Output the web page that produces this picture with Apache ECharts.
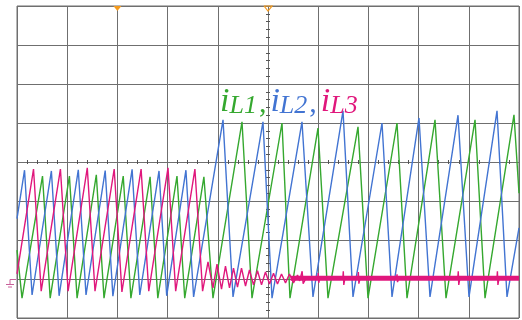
<!DOCTYPE html>
<html>
<head>
<meta charset="utf-8">
<script src="https://cdn.jsdelivr.net/npm/echarts@6/dist/echarts.min.js"></script>
<style>
  html, body { margin: 0; padding: 0; background: #ffffff; }
  #chart { width: 522px; height: 320px; }
</style>
</head>
<body>
<div id="chart"></div>
<script>
// Inductor currents of a three-phase interleaved converter.
// Time is in screen divisions (10 across), current in divisions above the ground level.

// Phase 1 current (green)
const iL1 = [
  [0.00, 0.74], [0.10, -0.49], [0.508, 2.64], [0.661, -0.49], [1.044, 2.64], [1.197, -0.49],
  [1.580, 2.67], [1.733, -0.49], [2.116, 2.64], [2.269, -0.49], [2.651, 2.62], [2.805, -0.49],
  [3.187, 2.64], [3.341, -0.49], [3.723, 2.62], [3.904, -0.49],
  [4.482, 4.03], [4.681, -0.49], [5.279, 4.00], [5.438, -0.49], [5.996, 3.87], [6.195, -0.49],
  [6.793, 3.90], [6.992, -0.49], [7.570, 4.00], [7.769, -0.49], [8.327, 4.08], [8.546, -0.49],
  [9.124, 4.08], [9.323, -0.49], [9.900, 4.21], [10.00, 2.20]
];

// Phase 2 current (blue)
const iL2 = [
  [0.00, 1.55], [0.15, 2.79], [0.30, -0.41], [0.685, 2.77], [0.839, -0.43], [1.221, 2.80],
  [1.375, -0.41], [1.757, 2.78], [1.910, -0.44], [2.293, 2.81], [2.446, -0.41], [2.829, 2.77],
  [2.982, -0.43], [3.365, 2.79], [3.518, -0.46],
  [4.104, 4.08], [4.303, -0.46], [4.900, 4.03], [5.080, -0.49], [5.677, 4.03], [5.896, -0.46],
  [6.494, 4.31], [6.693, -0.46], [7.271, 4.00], [7.470, -0.46], [8.008, 4.13], [8.227, -0.46],
  [8.785, 4.20], [9.004, -0.46], [9.562, 4.31], [9.761, -0.46], [10.00, 1.31]
];

// Phase 3 current (magenta): switching, then shed with a decaying ring
const iL3 = [
  [0.00, 0.13], [0.329, 2.82], [0.482, -0.31], [0.865, 2.82], [1.018, -0.31], [1.400, 2.85],
  [1.554, -0.31], [1.936, 2.82], [2.090, -0.33], [2.472, 2.82], [2.625, -0.31], [3.008, 2.85],
  [3.161, -0.31], [3.544, 2.82], [3.697, -0.31],
  [3.805, 0.44], [3.904, -0.23], [3.984, 0.38], [4.074, -0.26], [4.153, 0.33], [4.233, -0.23],
  [4.313, 0.28], [4.392, -0.21], [4.472, 0.28], [4.552, -0.18], [4.631, 0.23], [4.711, -0.15],
  [4.791, 0.21], [4.871, -0.15], [4.950, 0.18], [5.030, -0.13], [5.110, 0.15], [5.189, -0.13],
  [5.269, 0.13], [5.349, -0.10], [5.428, 0.13], [5.508, -0.10], [5.588, 0.10], [5.63, -0.05],
  [5.68, 0.20], [5.70, -0.12], [5.75, 0.00],
  [5.99, 0.00], [6.00, 0.15], [6.01, -0.10], [6.03, 0.00],
  [6.49, 0.00], [6.50, 0.20], [6.51, -0.15], [6.53, 0.00],
  [6.79, 0.00], [6.80, 0.18], [6.81, -0.12], [6.83, 0.00],
  [7.56, 0.00], [7.57, 0.12], [7.58, -0.08], [7.60, 0.00],
  [8.78, 0.00], [8.79, 0.20], [8.80, -0.15], [8.82, 0.00],
  [9.56, 0.00], [9.57, 0.20], [9.58, -0.15], [9.60, 0.00],
  [10.00, 0.02]
];

// Residual ripple band of phase 3 once it has settled
const iL3Floor = [[5.45, 0.02], [10.00, 0.02]];

const X_MIN = 0, X_MAX = 10, Y_MIN = -1, Y_MAX = 7;
const GRID_COLOR = '#6f6f6f';
const TICK_COLOR = '#555555';
const C1 = '#35a82f', C2 = '#4274d2', C3 = '#e0177c';

const hidden = { show: false };

function centerTickAxis(isX, inside, offset) {
  return {
    type: 'value', gridIndex: 0,
    min: isX ? X_MIN : Y_MIN, max: isX ? X_MAX : Y_MAX, interval: 1,
    position: isX ? 'bottom' : 'left',
    offset: offset,
    axisLine: hidden,
    axisLabel: hidden,
    splitLine: hidden,
    axisTick: { show: false, inside: inside },
    minorTick: { show: true, splitNumber: 5, length: 2, lineStyle: { color: TICK_COLOR, width: 1 } }
  };
}

const chart = echarts.init(document.getElementById('chart'), null, { renderer: 'canvas' });

chart.setOption({
  animation: false,
  backgroundColor: '#ffffff',
  grid: {
    left: 17, right: 3, top: 6, bottom: 2,
    show: true, borderColor: GRID_COLOR, borderWidth: 1, backgroundColor: 'transparent'
  },
  xAxis: [
    {
      type: 'value', min: X_MIN, max: X_MAX, interval: 1,
      axisLine: hidden, axisTick: hidden, axisLabel: hidden,
      splitLine: { show: true, lineStyle: { color: GRID_COLOR, width: 1 } }
    },
    centerTickAxis(true, false, -156),
    centerTickAxis(true, true, -156)
  ],
  yAxis: [
    {
      type: 'value', min: Y_MIN, max: Y_MAX, interval: 1,
      axisLine: hidden, axisTick: hidden, axisLabel: hidden,
      splitLine: { show: true, lineStyle: { color: GRID_COLOR, width: 1 } }
    },
    centerTickAxis(false, false, -251),
    centerTickAxis(false, true, -251)
  ],
  series: [
    {
      name: 'iL1', type: 'line', data: iL1, showSymbol: false, clip: true,
      lineStyle: { color: C1, width: 1.4 }, z: 3
    },
    {
      name: 'iL2', type: 'line', data: iL2, showSymbol: false, clip: true,
      lineStyle: { color: C2, width: 1.4 }, z: 4
    },
    {
      name: 'iL3 ripple', type: 'line', data: iL3Floor, showSymbol: false, clip: true,
      lineStyle: { color: C3, width: 5 }, z: 5
    },
    {
      name: 'iL3', type: 'line', data: iL3, showSymbol: false, clip: true,
      lineStyle: { color: C3, width: 1.4 }, z: 6
    }
  ]
});

// Screen decorations: trigger markers on the top edge, ground marker at the left, trace label
function drawDecorations() {
  const top = chart.convertToPixel({ yAxisIndex: 0 }, Y_MAX);
  const trigX = chart.convertToPixel({ xAxisIndex: 0 }, 2);
  const midX = chart.convertToPixel({ xAxisIndex: 0 }, 5);
  const gnd = Math.round(chart.convertToPixel({ yAxisIndex: 0 }, 0)) + 0.5;
  const left = chart.convertToPixel({ xAxisIndex: 0 }, X_MIN);
  const orange = '#f39a1e';
  const gColor = '#c8609a';

  const serif = 'Liberation Serif';
  const main = (fill) => ({ fontFamily: serif, fontStyle: 'italic', fontSize: 34, lineHeight: 34, verticalAlign: 'bottom', fill });
  const sub = (fill) => ({ fontFamily: serif, fontStyle: 'italic', fontSize: 26, lineHeight: 29, verticalAlign: 'bottom', fill });
  const comma = (fill) => ({ fontFamily: serif, fontSize: 30, lineHeight: 32, verticalAlign: 'bottom', fill, padding: [0, 4, 0, 2] });

  chart.setOption({
    graphic: [
      {
        type: 'polygon', z: 20,
        shape: { points: [[trigX - 4, top], [trigX + 4, top], [trigX, top + 5]] },
        style: { fill: orange }
      },
      {
        type: 'polyline', z: 20,
        shape: { points: [[midX - 4, top], [midX + 4, top], [midX, top + 5], [midX - 4, top]] },
        style: { stroke: orange, lineWidth: 1.2, fill: null }
      },
      {
        type: 'polyline', z: 20,
        shape: { points: [[left - 1, gnd], [left - 7, gnd], [left - 7, gnd + 5]] },
        style: { stroke: gColor, lineWidth: 1, fill: null }
      },
      {
        type: 'line', z: 20,
        shape: { x1: left - 11, y1: gnd + 5, x2: left - 3, y2: gnd + 5 },
        style: { stroke: gColor, lineWidth: 1 }
      },
      {
        type: 'line', z: 20,
        shape: { x1: left - 9, y1: gnd + 7.5, x2: left - 5, y2: gnd + 7.5 },
        style: { stroke: gColor, lineWidth: 1 }
      },
      {
        type: 'text', z: 30, left: 220, top: 85,
        style: {
          text: '{m1|i}{s1|L1}{c1|,}{m2|i}{s2|L2}{c2|,}{m3|i}{s3|L3}',
          rich: {
            m1: main(C1), s1: sub(C1), c1: comma(C1),
            m2: main(C2), s2: sub(C2), c2: comma(C2),
            m3: main(C3), s3: sub(C3)
          }
        }
      }
    ]
  });
}

drawDecorations();
</script>
</body>
</html>
